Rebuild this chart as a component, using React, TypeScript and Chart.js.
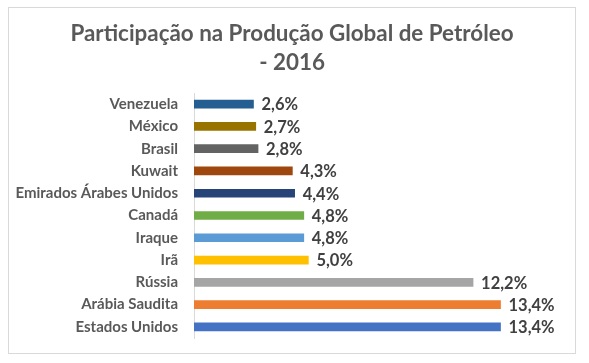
import React, { useEffect, useRef } from "react";
import { Chart, registerables } from "chart.js";

Chart.register(...registerables);

const TITLE_LINES = ["Participação na Produção Global de Petróleo", "- 2016"];
const COUNTRIES = [
  "Venezuela",
  "México",
  "Brasil",
  "Kuwait",
  "Emirados Árabes Unidos",
  "Canadá",
  "Iraque",
  "Irã",
  "Rússia",
  "Arábia Saudita",
  "Estados Unidos",
];
const SHARES = [2.6, 2.7, 2.8, 4.3, 4.4, 4.8, 4.8, 5.0, 12.2, 13.4, 13.4];
const BAR_COLORS = [
  "#255E91",
  "#997300",
  "#636363",
  "#9E480E",
  "#264478",
  "#70AD47",
  "#5B9BD5",
  "#FFC000",
  "#A5A5A5",
  "#ED7D31",
  "#4472C4",
];
const X_MAX = 16;

const FONT = "Lato, 'Open Sans', sans-serif";

const frameAndLabels = {
  id: "frameAndLabels",
  beforeDraw(chart: any) {
    const { ctx } = chart;
    ctx.save();
    ctx.fillStyle = "#ffffff";
    ctx.fillRect(0, 0, chart.width, chart.height);
    ctx.strokeStyle = "#d9d9d9";
    ctx.lineWidth = 1;
    ctx.strokeRect(8.5, 7.5, 567, 346);
    ctx.font = `bold 22.4px ${FONT}`;
    ctx.fillStyle = "#595959";
    ctx.textAlign = "center";
    ctx.textBaseline = "middle";
    TITLE_LINES.forEach((line, i) => ctx.fillText(line, 292, 34 + i * 29));
    ctx.restore();
  },
  afterDatasetsDraw(chart: any) {
    const { ctx } = chart;
    const meta = chart.getDatasetMeta(0);
    ctx.save();
    ctx.font = `bold 16.5px ${FONT}`;
    ctx.fillStyle = "#404040";
    ctx.textBaseline = "middle";
    ctx.textAlign = "left";
    meta.data.forEach((bar: any, i: number) => {
      const txt = SHARES[i].toFixed(1).replace(".", ",") + "%";
      ctx.fillText(txt, bar.x + 8, bar.y + 1);
    });
    ctx.restore();
  },
};

export default function App() {
  const ref = useRef<HTMLCanvasElement>(null);
  useEffect(() => {
    document.body.style.margin = "0";
    const chart = new Chart(ref.current!, {
      type: "bar",
      data: {
        labels: COUNTRIES,
        datasets: [
          {
            data: SHARES,
            backgroundColor: BAR_COLORS,
            barThickness: 8,
          },
        ],
      },
      options: {
        indexAxis: "y",
        animation: false,
        responsive: false,
        maintainAspectRatio: false,
        layout: { padding: { left: 0, right: 29, top: 93, bottom: 25 } },
        plugins: {
          legend: { display: false },
          tooltip: { enabled: false },
          title: { display: false },
        },
        scales: {
          x: { display: false, min: 0, max: X_MAX },
          y: {
            grid: { display: false, drawTicks: false },
            border: { display: true, color: "#d9d9d9", width: 1 },
            ticks: {
              color: "#595959",
              font: { family: FONT, size: 15, weight: "bold" },
              padding: 16,
            },
            afterFit(scale: any) {
              scale.width = 194;
            },
          },
        },
      },
      plugins: [frameAndLabels],
    });
    return () => chart.destroy();
  }, []);
  return <canvas ref={ref} width={589} height={363} style={{ display: "block" }} />;
}
